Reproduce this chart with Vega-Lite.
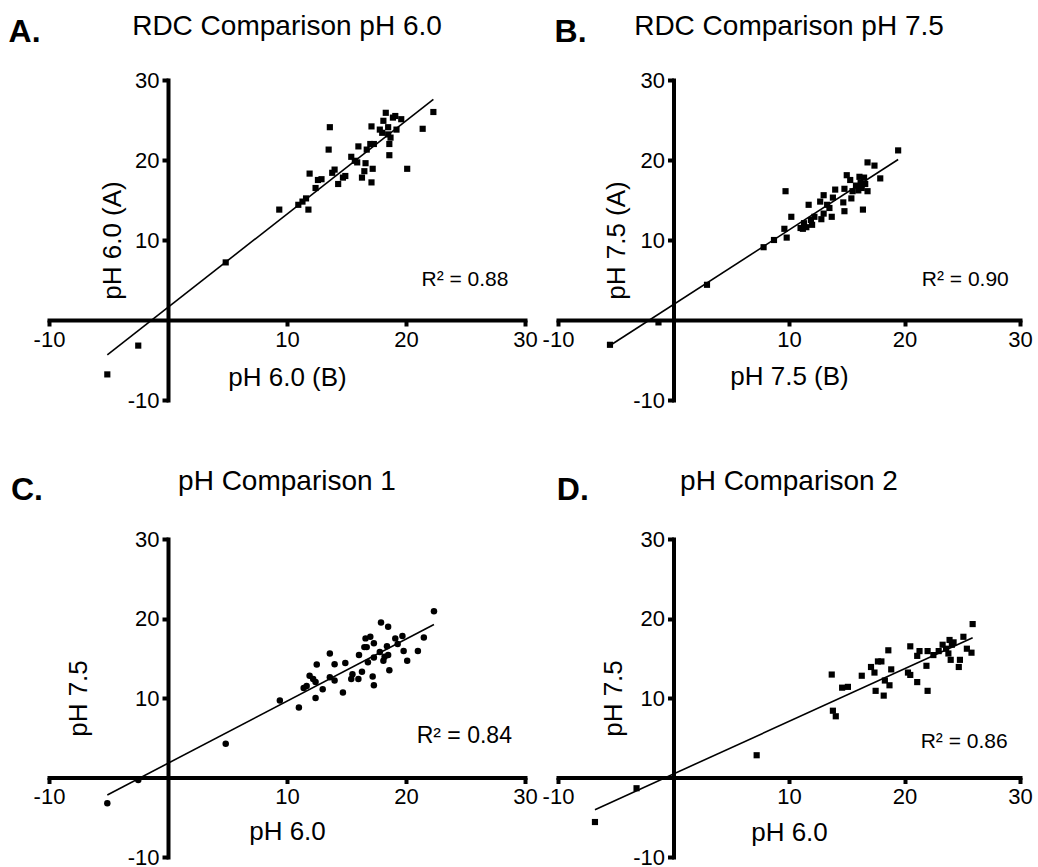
{
  "$schema": "https://vega.github.io/schema/vega-lite/v6.json",
  "background": "white",
  "padding": {"left": 8, "top": 13, "right": 5, "bottom": 5},
  "bounds": "flush",
  "columns": 2,
  "spacing": {"row": 139, "column": 33},
  "config": {
    "font": "Liberation Sans",
    "view": {"stroke": null},
    "axis": {
      "grid": false,
      "domainColor": "black",
      "domainWidth": 4,
      "domainCap": "square",
      "tickColor": "black",
      "tickWidth": 4,
      "tickSize": 6,
      "labelColor": "black",
      "labelFontSize": 22,
      "labelFont": "Liberation Sans",
      "labelPadding": 3,
      "labelFlush": false,
      "labelOverlap": false,
      "labelExpr": "datum.value + ''",
      "titleFont": "Liberation Sans",
      "titleFontWeight": "normal",
      "titleFontSize": 26,
      "titleColor": "black"
    },
    "title": {"font": "Liberation Sans", "fontSize": 28, "fontWeight": "normal", "color": "black", "anchor": "middle", "frame": "group"}
  },
  "datasets": {
    "A": [
      {"x": 9.35, "y": 13.8}, {"x": 10.95, "y": 14.4}, {"x": 11.3, "y": 14.8}, {"x": 11.6, "y": 15.2}, {"x": 11.8, "y": 13.8},
      {"x": 11.9, "y": 18.3}, {"x": 12.4, "y": 16.5}, {"x": 12.6, "y": 17.5}, {"x": 12.9, "y": 17.6}, {"x": 13.6, "y": 24.1},
      {"x": 13.5, "y": 21.3}, {"x": 13.8, "y": 18.4}, {"x": 14.0, "y": 18.8}, {"x": 14.3, "y": 17.0}, {"x": 14.7, "y": 17.8},
      {"x": 14.9, "y": 18.0}, {"x": 15.4, "y": 20.4}, {"x": 15.7, "y": 19.9}, {"x": 16.0, "y": 21.7}, {"x": 15.9, "y": 19.7},
      {"x": 16.3, "y": 17.8}, {"x": 16.5, "y": 18.6}, {"x": 16.6, "y": 19.6}, {"x": 16.7, "y": 21.3}, {"x": 17.0, "y": 22.0},
      {"x": 17.1, "y": 17.2}, {"x": 17.1, "y": 24.2}, {"x": 17.2, "y": 18.9}, {"x": 17.3, "y": 22.0}, {"x": 17.8, "y": 23.8},
      {"x": 18.0, "y": 23.4}, {"x": 18.1, "y": 24.9}, {"x": 18.3, "y": 25.9}, {"x": 18.5, "y": 23.2}, {"x": 18.5, "y": 24.1},
      {"x": 18.6, "y": 20.6}, {"x": 18.6, "y": 22.0}, {"x": 18.7, "y": 22.8}, {"x": 18.9, "y": 25.3}, {"x": 19.1, "y": 25.5},
      {"x": 19.2, "y": 23.8}, {"x": 19.6, "y": 25.1}, {"x": 20.1, "y": 18.9}, {"x": 21.4, "y": 23.9}, {"x": 22.3, "y": 26.0},
      {"x": 4.85, "y": 7.2}, {"x": -2.5, "y": -3.2}, {"x": -5.1, "y": -6.8}
    ],
    "B": [
      {"x": 19.45, "y": 21.2}, {"x": 16.8, "y": 19.7}, {"x": 17.4, "y": 19.3}, {"x": 17.9, "y": 17.7}, {"x": 9.7, "y": 16.1},
      {"x": 15.0, "y": 18.1}, {"x": 15.3, "y": 17.5}, {"x": 16.1, "y": 17.9}, {"x": 16.5, "y": 17.8}, {"x": 15.8, "y": 16.8},
      {"x": 16.0, "y": 16.2}, {"x": 16.3, "y": 16.5}, {"x": 16.8, "y": 16.1}, {"x": 14.8, "y": 16.4}, {"x": 14.0, "y": 16.3},
      {"x": 13.0, "y": 15.6}, {"x": 13.8, "y": 15.3}, {"x": 14.7, "y": 14.7}, {"x": 15.4, "y": 15.2}, {"x": 12.7, "y": 14.8},
      {"x": 13.3, "y": 14.4}, {"x": 11.7, "y": 14.4}, {"x": 14.8, "y": 13.6}, {"x": 16.4, "y": 13.8}, {"x": 13.0, "y": 13.3},
      {"x": 13.7, "y": 12.9}, {"x": 12.8, "y": 12.6}, {"x": 12.2, "y": 12.9}, {"x": 11.9, "y": 12.5}, {"x": 10.2, "y": 12.9},
      {"x": 11.3, "y": 12.1}, {"x": 11.0, "y": 11.5}, {"x": 11.2, "y": 11.4}, {"x": 9.6, "y": 11.4}, {"x": 9.8, "y": 10.3},
      {"x": 8.7, "y": 10.0}, {"x": 11.5, "y": 11.6}, {"x": 7.8, "y": 9.1}, {"x": 2.9, "y": 4.4}, {"x": -1.3, "y": -0.3},
      {"x": -5.5, "y": -3.1}, {"x": 16.2, "y": 17.2}, {"x": 15.5, "y": 16.1}, {"x": 16.6, "y": 17.0}, {"x": 12.0, "y": 11.9},
      {"x": 13.5, "y": 14.0}
    ],
    "C": [
      {"x": 22.35, "y": 20.9}, {"x": 17.9, "y": 19.5}, {"x": 18.5, "y": 18.96}, {"x": 21.5, "y": 17.6}, {"x": 19.7, "y": 17.8},
      {"x": 19.1, "y": 17.5}, {"x": 16.6, "y": 17.5}, {"x": 17.0, "y": 17.7}, {"x": 17.3, "y": 16.9}, {"x": 16.5, "y": 16.4},
      {"x": 16.7, "y": 16.4}, {"x": 16.05, "y": 15.4}, {"x": 18.4, "y": 16.5}, {"x": 19.3, "y": 16.8}, {"x": 19.8, "y": 15.9},
      {"x": 21.0, "y": 15.9}, {"x": 20.1, "y": 14.7}, {"x": 18.6, "y": 13.5}, {"x": 17.8, "y": 15.8}, {"x": 18.2, "y": 15.2},
      {"x": 18.1, "y": 14.7}, {"x": 18.5, "y": 15.4}, {"x": 17.3, "y": 15.1}, {"x": 16.8, "y": 14.5}, {"x": 13.6, "y": 15.6},
      {"x": 14.0, "y": 14.25}, {"x": 14.9, "y": 14.4}, {"x": 12.5, "y": 14.2}, {"x": 11.9, "y": 12.8}, {"x": 12.2, "y": 12.4},
      {"x": 12.4, "y": 12.0}, {"x": 13.6, "y": 12.6}, {"x": 14.0, "y": 12.2}, {"x": 15.5, "y": 13.0}, {"x": 16.3, "y": 13.3},
      {"x": 15.4, "y": 12.4}, {"x": 16.0, "y": 12.4}, {"x": 17.2, "y": 12.7}, {"x": 17.3, "y": 11.6}, {"x": 11.4, "y": 11.25},
      {"x": 11.65, "y": 11.5}, {"x": 13.0, "y": 11.1}, {"x": 14.7, "y": 10.7}, {"x": 12.4, "y": 10.0}, {"x": 11.0, "y": 8.8},
      {"x": 9.4, "y": 9.7}, {"x": 4.85, "y": 4.25}, {"x": -2.5, "y": -0.3}, {"x": -5.1, "y": -3.25}
    ],
    "D": [
      {"x": 13.7, "y": 12.95}, {"x": 14.6, "y": 11.3}, {"x": 15.1, "y": 11.4}, {"x": 16.3, "y": 12.8}, {"x": 17.1, "y": 13.9},
      {"x": 17.4, "y": 13.2}, {"x": 17.7, "y": 14.6}, {"x": 18.0, "y": 14.6}, {"x": 18.6, "y": 16.0}, {"x": 18.85, "y": 13.6},
      {"x": 17.5, "y": 10.9}, {"x": 18.3, "y": 12.2}, {"x": 18.7, "y": 11.6}, {"x": 18.2, "y": 10.3}, {"x": 20.3, "y": 13.2},
      {"x": 20.5, "y": 12.9}, {"x": 21.1, "y": 12.0}, {"x": 22.0, "y": 10.9}, {"x": 20.5, "y": 16.5}, {"x": 21.3, "y": 15.9},
      {"x": 21.1, "y": 15.3}, {"x": 22.0, "y": 15.9}, {"x": 21.9, "y": 14.05}, {"x": 22.5, "y": 15.4}, {"x": 22.96, "y": 15.9},
      {"x": 23.3, "y": 16.7}, {"x": 23.6, "y": 16.2}, {"x": 23.9, "y": 17.3}, {"x": 24.1, "y": 16.7}, {"x": 23.8, "y": 15.6},
      {"x": 24.0, "y": 14.8}, {"x": 24.8, "y": 14.8}, {"x": 24.7, "y": 13.9}, {"x": 25.1, "y": 17.7}, {"x": 25.4, "y": 16.2},
      {"x": 24.25, "y": 17.0}, {"x": 25.9, "y": 19.3}, {"x": 25.8, "y": 15.7}, {"x": 13.8, "y": 8.4}, {"x": 14.05, "y": 7.7},
      {"x": 7.2, "y": 2.8}, {"x": -3.2, "y": -1.35}, {"x": -6.8, "y": -5.6}
    ]
  },
  "concat": [
    {
      "width": 476, "height": 320,
      "title": {"text": "RDC Comparison pH 6.0", "baseline": "alphabetic", "offset": -47.6},
      "data": {"name": "A"},
      "layer": [
        {
          "mark": {"type": "point", "shape": "square", "filled": true, "size": 38, "opacity": 1, "color": "black", "strokeWidth": 0},
          "encoding": {
            "x": {"field": "x", "type": "quantitative", "scale": {"domain": [-10, 30], "nice": false, "zero": false}, "axis": {"title": "pH 6.0 (B)", "values": [-10, 10, 20, 30], "offset": -80, "titlePadding": 14}},
            "y": {"field": "y", "type": "quantitative", "scale": {"domain": [-10, 30], "nice": false, "zero": false}, "axis": {"title": "pH 6.0 (A)", "values": [-10, 10, 20, 30], "offset": -119, "titlePadding": 2}}
          }
        },
        {
          "transform": [{"regression": "y", "on": "x"}],
          "mark": {"type": "line", "color": "black", "strokeWidth": 1.6},
          "encoding": {"x": {"field": "x", "type": "quantitative"}, "y": {"field": "y", "type": "quantitative"}}
        },
        {
          "data": {"values": [{}]},
          "mark": {"type": "text", "text": "A.", "font": "Liberation Sans", "fontSize": 32, "fontWeight": "bold", "align": "left", "baseline": "alphabetic", "color": "black"},
          "encoding": {"x": {"datum": -13.4, "type": "quantitative"}, "y": {"datum": 34.8, "type": "quantitative"}}
        },
        {
          "data": {"values": [{}]},
          "mark": {"type": "text", "text": "R² = 0.88", "font": "Liberation Sans", "fontSize": 21, "align": "left", "baseline": "alphabetic", "color": "black"},
          "encoding": {"x": {"datum": 21.3, "type": "quantitative"}, "y": {"datum": 4.2, "type": "quantitative"}}
        }
      ]
    },
    {
      "width": 462, "height": 320,
      "title": {"text": "RDC Comparison pH 7.5", "baseline": "alphabetic", "offset": -47.6},
      "data": {"name": "B"},
      "layer": [
        {
          "mark": {"type": "point", "shape": "square", "filled": true, "size": 38, "opacity": 1, "color": "black", "strokeWidth": 0},
          "encoding": {
            "x": {"field": "x", "type": "quantitative", "scale": {"domain": [-10, 30], "nice": false, "zero": false}, "axis": {"title": "pH 7.5 (B)", "values": [-10, 10, 20, 30], "offset": -80, "titlePadding": 13}},
            "y": {"field": "y", "type": "quantitative", "scale": {"domain": [-10, 30], "nice": false, "zero": false}, "axis": {"title": "pH 7.5 (A)", "values": [-10, 10, 20, 30], "offset": -115.5, "titlePadding": 3}}
          }
        },
        {
          "transform": [{"regression": "y", "on": "x"}],
          "mark": {"type": "line", "color": "black", "strokeWidth": 1.6},
          "encoding": {"x": {"field": "x", "type": "quantitative"}, "y": {"field": "y", "type": "quantitative"}}
        },
        {
          "data": {"values": [{}]},
          "mark": {"type": "text", "text": "B.", "font": "Liberation Sans", "fontSize": 32, "fontWeight": "bold", "align": "left", "baseline": "alphabetic", "color": "black"},
          "encoding": {"x": {"datum": -10.3, "type": "quantitative"}, "y": {"datum": 34.8, "type": "quantitative"}}
        },
        {
          "data": {"values": [{}]},
          "mark": {"type": "text", "text": "R² = 0.90", "font": "Liberation Sans", "fontSize": 21, "align": "left", "baseline": "alphabetic", "color": "black"},
          "encoding": {"x": {"datum": 21.5, "type": "quantitative"}, "y": {"datum": 4.2, "type": "quantitative"}}
        }
      ]
    },
    {
      "width": 476, "height": 318,
      "title": {"text": "pH Comparison 1", "baseline": "alphabetic", "offset": -43.6},
      "data": {"name": "C"},
      "layer": [
        {
          "mark": {"type": "point", "shape": "circle", "filled": true, "size": 42, "opacity": 1, "color": "black", "strokeWidth": 0},
          "encoding": {
            "x": {"field": "x", "type": "quantitative", "scale": {"domain": [-10, 30], "nice": false, "zero": false}, "axis": {"title": "pH 6.0", "values": [-10, 10, 20, 30], "offset": -79.5, "titlePadding": 11}},
            "y": {"field": "y", "type": "quantitative", "scale": {"domain": [-10, 30], "nice": false, "zero": false}, "axis": {"title": "pH 7.5", "values": [-10, 10, 20, 30], "offset": -119, "titlePadding": 36}}
          }
        },
        {
          "transform": [{"regression": "y", "on": "x"}],
          "mark": {"type": "line", "color": "black", "strokeWidth": 1.6},
          "encoding": {"x": {"field": "x", "type": "quantitative"}, "y": {"field": "y", "type": "quantitative"}}
        },
        {
          "data": {"values": [{}]},
          "mark": {"type": "text", "text": "C.", "font": "Liberation Sans", "fontSize": 32, "fontWeight": "bold", "align": "left", "baseline": "alphabetic", "color": "black"},
          "encoding": {"x": {"datum": -13.2, "type": "quantitative"}, "y": {"datum": 34.9, "type": "quantitative"}}
        },
        {
          "data": {"values": [{}]},
          "mark": {"type": "text", "text": "R² = 0.84", "font": "Liberation Sans", "fontSize": 23, "align": "left", "baseline": "alphabetic", "color": "black"},
          "encoding": {"x": {"datum": 20.9, "type": "quantitative"}, "y": {"datum": 4.4, "type": "quantitative"}}
        }
      ]
    },
    {
      "width": 462, "height": 318,
      "title": {"text": "pH Comparison 2", "baseline": "alphabetic", "offset": -43.6},
      "data": {"name": "D"},
      "layer": [
        {
          "mark": {"type": "point", "shape": "square", "filled": true, "size": 38, "opacity": 1, "color": "black", "strokeWidth": 0},
          "encoding": {
            "x": {"field": "x", "type": "quantitative", "scale": {"domain": [-10, 30], "nice": false, "zero": false}, "axis": {"title": "pH 6.0", "values": [-10, 10, 20, 30], "offset": -79.5, "titlePadding": 12}},
            "y": {"field": "y", "type": "quantitative", "scale": {"domain": [-10, 30], "nice": false, "zero": false}, "axis": {"title": "pH 7.5", "values": [-10, 10, 20, 30], "offset": -115.5, "titlePadding": 6}}
          }
        },
        {
          "transform": [{"regression": "y", "on": "x"}],
          "mark": {"type": "line", "color": "black", "strokeWidth": 1.6},
          "encoding": {"x": {"field": "x", "type": "quantitative"}, "y": {"field": "y", "type": "quantitative"}}
        },
        {
          "data": {"values": [{}]},
          "mark": {"type": "text", "text": "D.", "font": "Liberation Sans", "fontSize": 32, "fontWeight": "bold", "align": "left", "baseline": "alphabetic", "color": "black"},
          "encoding": {"x": {"datum": -10.1, "type": "quantitative"}, "y": {"datum": 34.9, "type": "quantitative"}}
        },
        {
          "data": {"values": [{}]},
          "mark": {"type": "text", "text": "R² = 0.86", "font": "Liberation Sans", "fontSize": 21, "align": "left", "baseline": "alphabetic", "color": "black"},
          "encoding": {"x": {"datum": 21.4, "type": "quantitative"}, "y": {"datum": 3.7, "type": "quantitative"}}
        }
      ]
    }
  ]
}
